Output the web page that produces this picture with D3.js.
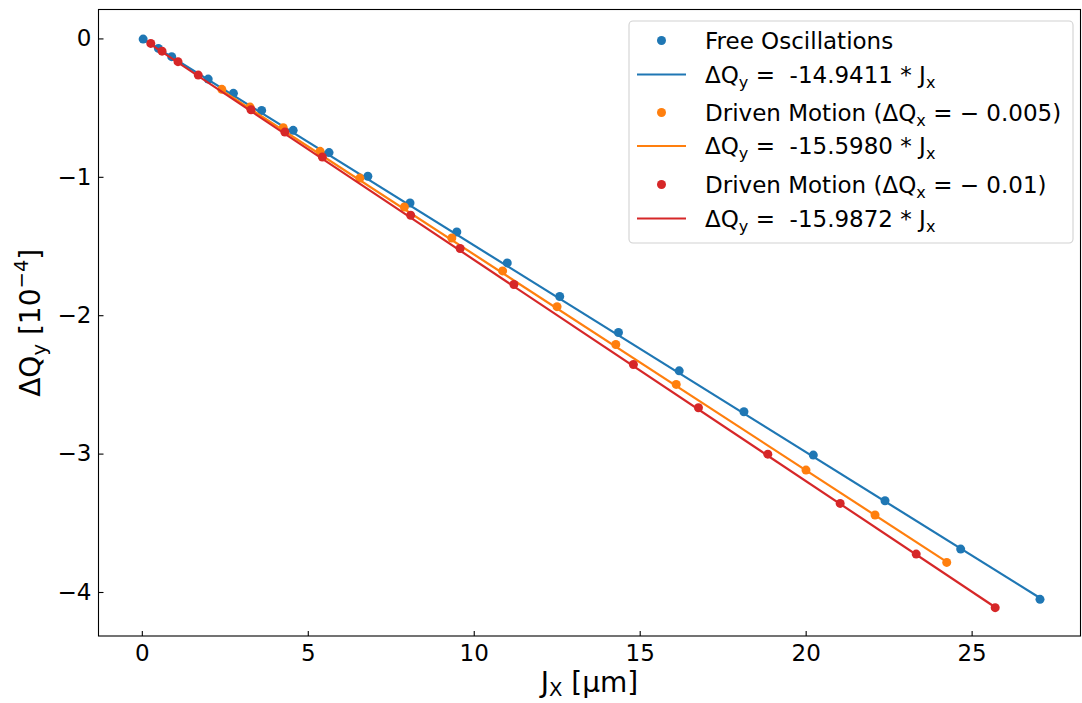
<!DOCTYPE html>
<html>
<head>
<meta charset="utf-8">
<script src="https://cdn.jsdelivr.net/npm/d3@7"></script>
<style>
  html, body { margin: 0; padding: 0; background: #ffffff; }
  svg { display: block; }
  text { font-family: "DejaVu Sans", sans-serif; fill: #000; white-space: pre; }
</style>
</head>
<body>
<svg id="chart" width="1082" height="703"></svg>
<script>
// ---------------- data ----------------
const freeX = [0.04, 0.50, 0.90, 2.00, 2.76, 3.61, 4.56, 5.64, 6.81, 8.08, 9.49, 11.01, 12.59, 14.36, 16.19, 18.14, 20.23, 22.39, 24.67, 27.06];
const freeY = [-0.005, -0.072, -0.132, -0.294, -0.397, -0.520, -0.664, -0.825, -0.996, -1.189, -1.398, -1.622, -1.865, -2.125, -2.402, -2.698, -3.011, -3.341, -3.690, -4.053];

const drive005X = [2.41, 3.26, 4.26, 5.37, 6.57, 7.91, 9.34, 10.87, 12.51, 14.28, 16.10, 20.01, 22.09, 24.25];
const drive005Y = [-0.368, -0.496, -0.645, -0.816, -1.009, -1.218, -1.442, -1.680, -1.938, -2.212, -2.500, -3.119, -3.444, -3.786];

const drive01X = [0.27, 0.61, 1.09, 1.70, 3.29, 4.31, 5.44, 8.10, 9.59, 11.21, 14.81, 16.77, 18.86, 21.04, 23.33, 25.71];
const drive01Y = [-0.036, -0.092, -0.168, -0.265, -0.515, -0.677, -0.857, -1.278, -1.518, -1.778, -2.356, -2.669, -3.004, -3.360, -3.726, -4.113];

// fitted slopes from legend (ΔQy = slope * Jx, Jx in m)
const fitSlopes = [-14.9411, -15.5980, -15.9872];
const seriesColors = ["#1f77b4", "#ff7f0e", "#d62728"];

const xTicks = [0, 5, 10, 15, 20, 25];
const yTicks = [0, -1, -2, -3, -4];

const legendLabels = [
  [{t: "Free Oscillations"}],
  [{t: "ΔQ"}, {t: "y", sub: true}, {t: " =  -14.9411 * J"}, {t: "x", sub: true}],
  [{t: "Driven Motion (ΔQ"}, {t: "x", sub: true}, {t: " = − 0.005)"}],
  [{t: "ΔQ"}, {t: "y", sub: true}, {t: " =  -15.5980 * J"}, {t: "x", sub: true}],
  [{t: "Driven Motion (ΔQ"}, {t: "x", sub: true}, {t: " = − 0.01)"}],
  [{t: "ΔQ"}, {t: "y", sub: true}, {t: " =  -15.9872 * J"}, {t: "x", sub: true}]
];

// ---------------- layout ----------------
const L = 98.5, R = 1080.5, T = 9.5, B = 636;
const tickFont = 23, legendFont = 23, labelFont = 28;

const svg = d3.select("#chart");

const x = d3.scaleLinear().domain([-1.305, 28.28]).range([L, R]);
const y = d3.scaleLinear().domain([0.209, -4.318]).range([T, B]);

function rich(sel, parts, fs, subShift = 0.22) {
  let shifted = 0;
  parts.forEach(p => {
    const ts = sel.append("tspan").text(p.t);
    if (p.sub) {
      const target = subShift * fs;
      ts.attr("font-size", fs * 0.7).attr("dy", target - shifted);
      shifted = target;
    } else if (p.sup) {
      const target = -0.42 * fs;
      ts.attr("font-size", fs * 0.7).attr("dy", target - shifted);
      shifted = target;
    } else {
      ts.attr("font-size", fs);
      if (shifted !== 0) { ts.attr("dy", -shifted); shifted = 0; }
    }
  });
}

// ---------------- series ----------------
const series = [
  {xs: freeX, ys: freeY},
  {xs: drive005X, ys: drive005Y},
  {xs: drive01X, ys: drive01Y}
];

svg.append("clipPath").attr("id", "clip").append("rect")
  .attr("x", L).attr("y", T).attr("width", R - L).attr("height", B - T);
const plot = svg.append("g").attr("clip-path", "url(#clip)");

series.forEach((s, i) => {
  const pts = s.xs.map((v, k) => [v, s.ys[k]]);
  plot.append("g").selectAll("circle").data(pts).join("circle")
    .attr("cx", d => x(d[0])).attr("cy", d => y(d[1]))
    .attr("r", 4.5).attr("fill", seriesColors[i]);
  const slope = fitSlopes[i] / 100; // in 1e-4 per µm
  const xmin = d3.min(s.xs), xmax = d3.max(s.xs);
  const line = d3.line().x(d => x(d)).y(d => y(slope * d));
  plot.append("path").attr("d", line([xmin, xmax]))
    .attr("fill", "none").attr("stroke", seriesColors[i]).attr("stroke-width", 2.2);
});

// ---------------- axes ----------------
const xAxis = d3.axisBottom(x).tickValues(xTicks).tickSize(-5).tickPadding(9)
  .tickFormat(d => d3.format("d")(d));
const gx = svg.append("g").attr("transform", `translate(0,${B})`).call(xAxis);
gx.select(".domain").remove();
gx.selectAll(".tick line").attr("stroke", "#000").attr("stroke-width", 1.1);
gx.selectAll(".tick text").attr("font-size", tickFont).attr("font-family", "DejaVu Sans").attr("fill", "#000");

const yAxis = d3.axisLeft(y).tickValues(yTicks).tickSize(-5).tickPadding(7)
  .tickFormat(d => d === 0 ? "0" : "−" + Math.abs(d));
const gy = svg.append("g").attr("transform", `translate(${L},0)`).call(yAxis);
gy.select(".domain").remove();
gy.selectAll(".tick line").attr("stroke", "#000").attr("stroke-width", 1.1);
gy.selectAll(".tick text").attr("font-size", tickFont).attr("font-family", "DejaVu Sans").attr("fill", "#000");

// frame
svg.append("rect").attr("x", L).attr("y", T).attr("width", R - L).attr("height", B - T)
  .attr("fill", "none").attr("stroke", "#000").attr("stroke-width", 1.1);

// axis labels
const xl = svg.append("text").attr("x", (L + R) / 2).attr("y", 692).attr("text-anchor", "middle");
rich(xl, [{t: "J"}, {t: "X", sub: true}, {t: " [μm]"}], labelFont, 0.14);

const yl = svg.append("text").attr("transform", `translate(40,${(T + B) / 2}) rotate(-90)`).attr("text-anchor", "middle");
rich(yl, [{t: "ΔQ"}, {t: "y", sub: true}, {t: " [10"}, {t: "−4", sup: true}, {t: "]"}], labelFont);

// ---------------- legend ----------------
const leg = svg.append("g");
leg.append("rect").attr("x", 629).attr("y", 21).attr("width", 444).attr("height", 222)
  .attr("rx", 4).attr("ry", 4)
  .attr("fill", "rgba(255,255,255,0.8)").attr("stroke", "rgba(204,204,204,0.9)").attr("stroke-width", 1.1);

const rowY = [40.5, 74.5, 112.5, 146, 184.5, 218.5];
legendLabels.forEach((lab, i) => {
  const c = seriesColors[Math.floor(i / 2)];
  const cy = rowY[i];
  if (i % 2 === 0) {
    leg.append("circle").attr("cx", 661.5).attr("cy", cy).attr("r", 4.5).attr("fill", c);
  } else {
    leg.append("line").attr("x1", 637).attr("x2", 686).attr("y1", cy).attr("y2", cy)
      .attr("stroke", c).attr("stroke-width", 2.2);
  }
  const t = leg.append("text").attr("x", 705).attr("y", cy + 8.3);
  rich(t, lab, legendFont);
});
</script>
</body>
</html>
